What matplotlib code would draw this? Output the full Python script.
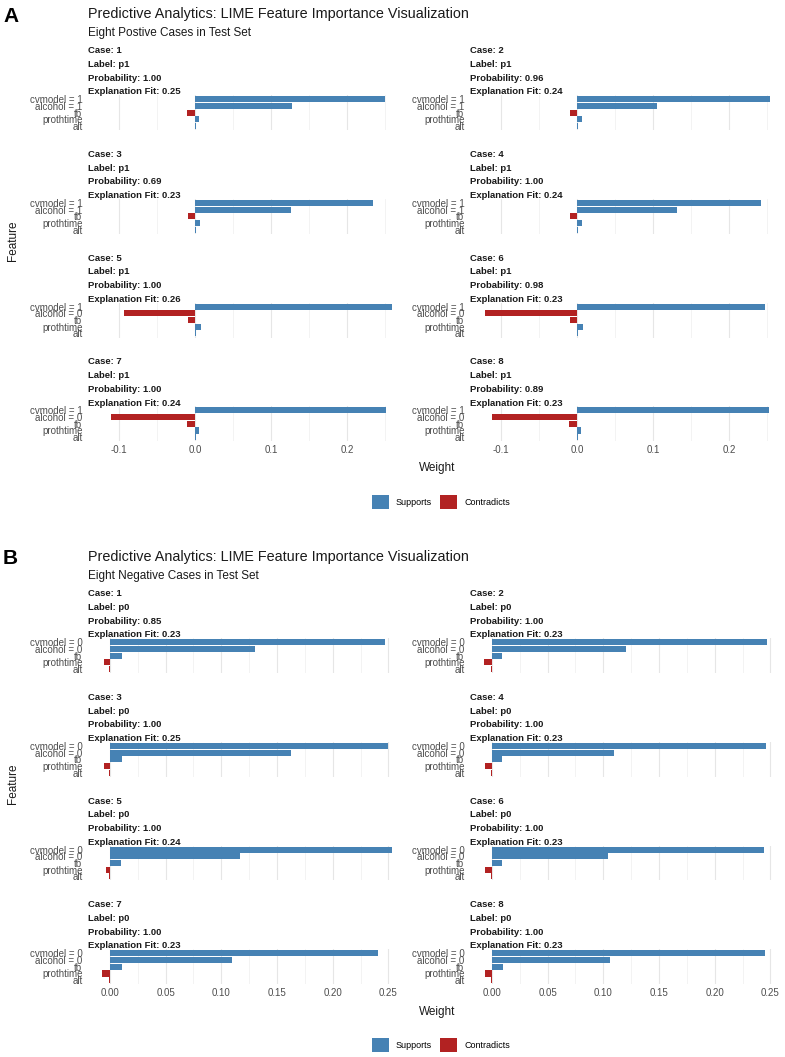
import numpy as np
import matplotlib
matplotlib.use("Agg")
import matplotlib.pyplot as plt
from matplotlib.patches import Patch

plt.rcParams['font.family'] = ['Liberation Sans', 'DejaVu Sans']

# Data
feats_pos_sick = ["cvmodel = 1", "alcohol = 1", "tb", "prothtime", "alt"]
feats_pos_sober = ["cvmodel = 1", "alcohol = 0", "tb", "prothtime", "alt"]
feats_neg = ["cvmodel = 0", "alcohol = 0", "tb", "prothtime", "alt"]

pos_weights = [
    [0.250, 0.127, -0.0105, 0.005, 0.001],
    [0.2535, 0.105, -0.0096, 0.006, 0.001],
    [0.234, 0.126, -0.009, 0.0058, 0.001],
    [0.242, 0.131, -0.0096, 0.006, 0.001],
    [0.259, -0.094, -0.0092, 0.007, 0.001],
    [0.247, -0.121, -0.010, 0.008, 0.001],
    [0.251, -0.111, -0.0103, 0.005, 0.001],
    [0.2516, -0.1116, -0.0103, 0.005, 0.001],
]
pos_probs = [1.00, 0.96, 0.69, 1.00, 1.00, 0.98, 1.00, 0.89]
pos_fits = [0.25, 0.24, 0.23, 0.24, 0.26, 0.23, 0.24, 0.23]

neg_weights = [
    [0.247, 0.130, 0.0108, -0.0054, -0.0008],
    [0.247, 0.120, 0.0094, -0.0067, -0.0008],
    [0.2495, 0.163, 0.0108, -0.0054, -0.0008],
    [0.246, 0.110, 0.0094, -0.0058, -0.0008],
    [0.253, 0.117, 0.010, -0.0036, -0.0008],
    [0.2446, 0.1046, 0.0094, -0.0058, -0.0008],
    [0.2406, 0.110, 0.0108, -0.0067, -0.0008],
    [0.245, 0.106, 0.0097, -0.006, -0.001],
]
neg_probs = [0.85, 1.00, 1.00, 1.00, 1.00, 1.00, 1.00, 1.00]
neg_fits = [0.23, 0.23, 0.25, 0.23, 0.24, 0.23, 0.23, 0.23]

BLUE = "#4682B4"
RED = "#B22222"
GREY = "#4D4D4D"

W, H = 785, 1057
fig = plt.figure(figsize=(W / 100, H / 100), dpi=100)
fig.patch.set_facecolor("white")


def box(x, y, w, h):
    return [x / W, 1 - (y + h) / H, w / W, h / H]


def ftext(x, y, s, **kw):
    kw.setdefault("va", "baseline")
    fig.text(x / W, 1 - y / H, s, **kw)


def draw_block(y0, letter, subtitle, label, weights, probs, fits, feat_sets,
               xlim, major, minor, fmt):
    ftext(3, y0 + 21.5, letter, fontsize=15, fontweight="bold")
    ftext(88, y0 + 18.3, "Predictive Analytics: LIME Feature Importance Visualization",
          fontsize=10.4, color="#1a1a1a")
    ftext(88, y0 + 35.7, subtitle, fontsize=8.5, color="#1a1a1a")

    for i in range(8):
        r, c = divmod(i, 2)
        left = 88 + c * 382
        top = y0 + 95.3 + r * 103.7
        ax = fig.add_axes(box(left, top, 317, 34.8))
        w = np.array(weights[i])
        cols = [BLUE if v >= 0 else RED for v in w]
        ax.barh(np.arange(5), w, height=0.9, color=cols, linewidth=0, zorder=2)
        ax.set_ylim(4.6, -0.6)
        ax.set_xlim(*xlim)
        ax.set_yticks(np.arange(5))
        ax.set_yticklabels(feat_sets[i], fontsize=7, color=GREY)
        ax.set_xticks(major)
        ax.set_xticks(minor, minor=True)
        if r == 3:
            ax.set_xticklabels([fmt.format(v) for v in major], fontsize=7, color=GREY)
        else:
            ax.set_xticklabels([])
        ax.tick_params(length=0, which="both")
        ax.tick_params(axis="y", pad=4)
        ax.tick_params(axis="x", pad=2.5)
        ax.grid(axis="x", which="major", color="#E6E6E6", lw=0.8, zorder=0)
        ax.grid(axis="x", which="minor", color="#EEEEEE", lw=0.5, zorder=0)
        ax.grid(axis="y", visible=False)
        for s in ax.spines.values():
            s.set_visible(False)

        strip = ["Case: %d" % (i + 1), "Label: %s" % label,
                 "Probability: %.2f" % probs[i], "Explanation Fit: %.2f" % fits[i]]
        for k, s in enumerate(strip):
            ftext(left, top - 42 + k * 13.7, s, fontsize=6.8, fontweight="bold",
                  color="#1a1a1a")

    ftext(13, y0 + 241, "Feature", fontsize=8.5, rotation=90, va="center", ha="center",
          color="#1a1a1a")
    ftext(437.5, y0 + 471.5, "Weight", fontsize=8.5, ha="center", color="#1a1a1a")

    handles = [Patch(facecolor=BLUE, label="Supports"), Patch(facecolor=RED, label="Contradicts")]
    fig.legend(handles=handles, loc="center", bbox_to_anchor=(441 / W, 1 - (y0 + 502) / H),
               ncol=2, frameon=False, fontsize=6.5, handlelength=1.9, handleheight=1.9,
               handletextpad=0.8, columnspacing=0.9, borderpad=0)


draw_block(0, "A", "Eight Postive Cases in Test Set", "p1", pos_weights, pos_probs,
           pos_fits, [feats_pos_sick] * 4 + [feats_pos_sober] * 4,
           (-0.1412, 0.2759), [-0.1, 0.0, 0.1, 0.2], [-0.05, 0.05, 0.15, 0.25], "{:.1f}")

draw_block(543, "B", "Eight Negative Cases in Test Set", "p0", neg_weights, neg_probs,
           neg_fits, [feats_neg] * 8,
           (-0.0197, 0.2649), [0.0, 0.05, 0.1, 0.15, 0.2, 0.25],
           [0.025, 0.075, 0.125, 0.175, 0.225], "{:.2f}")

fig.savefig("out.png", dpi=100)
